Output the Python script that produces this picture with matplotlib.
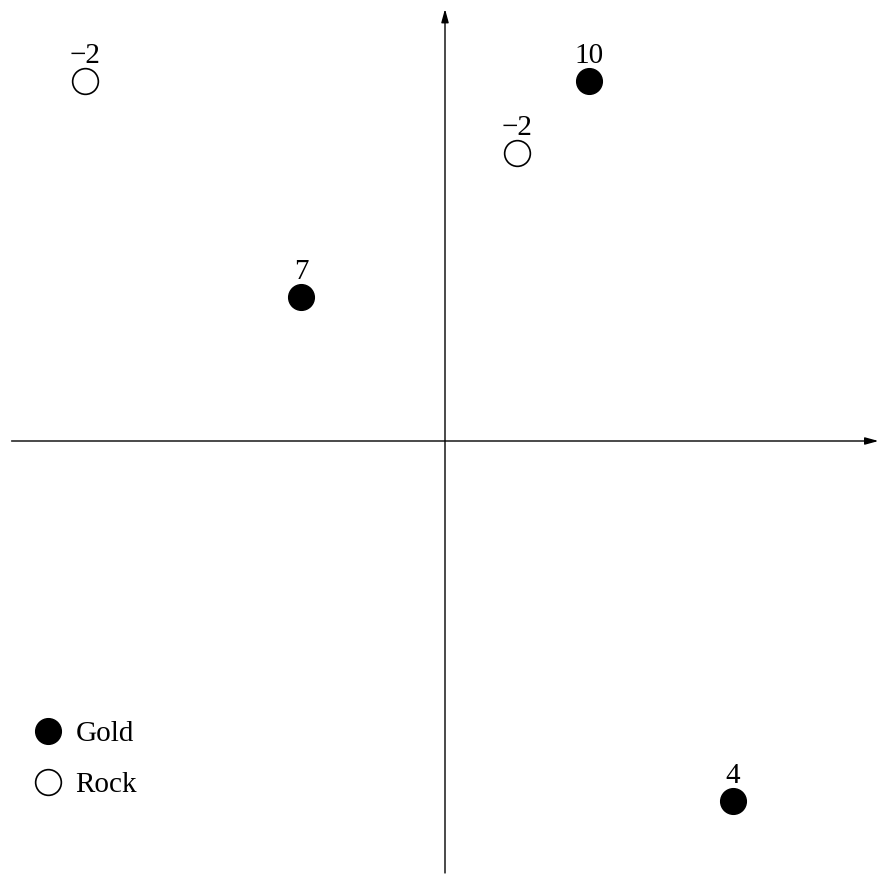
import matplotlib
matplotlib.use("Agg")
import matplotlib.pyplot as plt
from matplotlib.lines import Line2D

plt.rcParams['font.family'] = ['Liberation Serif', 'DejaVu Serif']

gold_x = [2, -2, 4]
gold_y = [5, 2, -5]
gold_labels = ["10", "7", "4"]
rock_x = [-5, 1]
rock_y = [5, 4]
rock_labels = ["\u22122", "\u22122"]

fig = plt.figure(figsize=(8.88, 8.81), dpi=100)
ax = fig.add_axes([0, 0, 1, 1])
ax.set_xlim(-445 / 72, (888 - 445) / 72)
ax.set_ylim(-(881 - 441) / 72, 441 / 72)
ax.axis('off')

arrow = dict(arrowstyle='-|>,head_length=0.8,head_width=0.22', lw=1.0, color='black',
             shrinkA=0, shrinkB=0)
ax.annotate('', xy=(6.02, 0), xytext=(-6.02, 0), arrowprops=arrow)
ax.annotate('', xy=(0, 6.0), xytext=(0, -6.0), arrowprops=arrow)

ax.plot(gold_x, gold_y, 'o', ms=18.5, mfc='black', mec='black', ls='none', zorder=3)
ax.plot(rock_x, rock_y, 'o', ms=18.5, mfc='white', mec='black', mew=1.2, ls='none', zorder=3)

for x, y, t in zip(gold_x + rock_x, gold_y + rock_y, gold_labels + rock_labels):
    ax.annotate(t, (x, y), xytext=(0, 18), textcoords='offset pixels',
                ha='center', va='baseline', fontsize=21)

handles = [
    Line2D([], [], marker='o', ls='none', ms=18.5, mfc='black', mec='black'),
    Line2D([], [], marker='o', ls='none', ms=18.5, mfc='white', mec='black', mew=1.2),
]
ax.legend(handles, ['Gold', 'Rock'], loc='lower left', bbox_to_anchor=(33 / 888, (881 - 798) / 881),
          frameon=False, fontsize=21, handlelength=1.0, handletextpad=0.45,
          labelspacing=0.85, borderpad=0, borderaxespad=0)

fig.savefig('out.png', dpi=100)
